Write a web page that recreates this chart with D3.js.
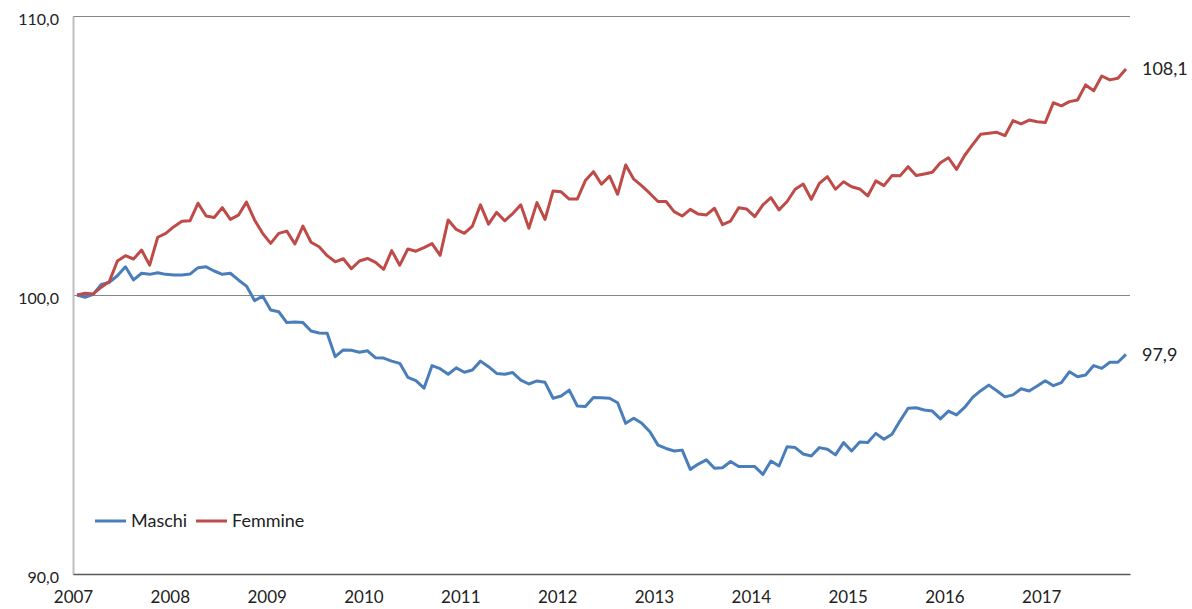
<!DOCTYPE html>
<html>
<head>
<meta charset="utf-8">
<script src="https://cdn.jsdelivr.net/npm/d3@7"></script>
<style>
  body { margin: 0; background: #fff; }
  text { font-family: Lato, "Noto Sans", sans-serif; }
</style>
</head>
<body>
<script>
// monthly index, Jan 2007 = 100, up to Nov 2017
var maschi = [
  100.00, 99.92, 100.02, 100.38, 100.45, 100.69, 101.01, 100.54, 100.78, 100.74, 100.80, 100.74,
  100.72, 100.72, 100.75, 100.98, 101.01, 100.86, 100.74, 100.78, 100.54, 100.32, 99.80, 99.96,
  99.46, 99.40, 99.01, 99.03, 99.01, 98.71, 98.64, 98.63, 97.79, 98.03, 98.02, 97.95,
  98.00, 97.75, 97.74, 97.63, 97.55, 97.05, 96.93, 96.66, 97.47, 97.36, 97.16, 97.39,
  97.23, 97.31, 97.63, 97.43, 97.19, 97.16, 97.22, 96.95, 96.81, 96.92, 96.87, 96.30,
  96.38, 96.59, 96.02, 96.00, 96.33, 96.32, 96.30, 96.14, 95.40, 95.58, 95.40, 95.10,
  94.62, 94.50, 94.41, 94.44, 93.75, 93.94, 94.09, 93.79, 93.81, 94.03, 93.85, 93.85,
  93.85, 93.57, 94.05, 93.87, 94.56, 94.53, 94.30, 94.23, 94.53, 94.47, 94.27, 94.71,
  94.41, 94.73, 94.71, 95.04, 94.83, 95.01, 95.49, 95.94, 95.96, 95.88, 95.84, 95.56,
  95.84, 95.70, 95.97, 96.33, 96.57, 96.77, 96.57, 96.35, 96.42, 96.64, 96.56, 96.74,
  96.93, 96.75, 96.86, 97.25, 97.07, 97.13, 97.47, 97.37, 97.59, 97.59, 97.87
];

var femmine = [
  100.00, 100.06, 100.04, 100.28, 100.48, 101.22, 101.41, 101.29, 101.61, 101.07, 102.07, 102.21,
  102.45, 102.64, 102.66, 103.29, 102.83, 102.78, 103.13, 102.71, 102.86, 103.33, 102.69, 102.21,
  101.85, 102.21, 102.29, 101.83, 102.47, 101.89, 101.73, 101.41, 101.19, 101.30, 100.94, 101.22,
  101.31, 101.17, 100.92, 101.59, 101.07, 101.65, 101.57, 101.70, 101.84, 101.42, 102.69, 102.35,
  102.21, 102.47, 103.23, 102.54, 102.96, 102.66, 102.92, 103.23, 102.39, 103.31, 102.71, 103.73,
  103.70, 103.44, 103.44, 104.10, 104.42, 103.97, 104.26, 103.61, 104.66, 104.15, 103.91, 103.64,
  103.35, 103.35, 102.99, 102.83, 103.07, 102.90, 102.87, 103.11, 102.52, 102.65, 103.13, 103.08,
  102.81, 103.23, 103.49, 103.05, 103.35, 103.79, 103.98, 103.43, 104.00, 104.24, 103.79, 104.06,
  103.88, 103.80, 103.55, 104.09, 103.92, 104.28, 104.27, 104.60, 104.28, 104.34, 104.40, 104.74,
  104.92, 104.50, 105.00, 105.39, 105.76, 105.80, 105.83, 105.71, 106.25, 106.13, 106.27, 106.21,
  106.18, 106.89, 106.78, 106.93, 106.99, 107.53, 107.32, 107.85, 107.71, 107.77, 108.10
];

var years = [2007, 2008, 2009, 2010, 2011, 2012, 2013, 2014, 2015, 2016, 2017];
var yTicks = [90, 100, 110];
var seriesNames = ["Maschi", "Femmine"];
var seriesColors = ["#4a7ebb", "#be4b48"];

var width = 1192,
	height = 609;

var svg = d3.select("body").append("svg")
	.attr("width", width)
	.attr("height", height);

// month index -> x, year boundaries fall half a month before each January
var xScale = d3.scaleLinear()
	.domain([-0.5, maschi.length - 0.5])
	.range([73, 1130]);

var yScale = d3.scaleLinear()
	.domain([90, 110])
	.range([574, 16]);

var fmt = function(v){
	return d3.format(".1f")(v).replace(".", ",");
};

// horizontal lines at 100 and 110
svg.selectAll(".grid")
	.data([100, 110])
	.enter()
	.append("line")
		.attr("class", "grid")
		.attr("x1", xScale(-0.5))
		.attr("x2", xScale(maschi.length - 0.5))
		.attr("y1", function(d){ return Math.round(yScale(d)) + 0.5; })
		.attr("y2", function(d){ return Math.round(yScale(d)) + 0.5; })
		.attr("stroke", "#868686")
		.attr("stroke-width", 1);

// y axis
var yAxis = svg.append("g")
	.attr("transform", "translate(" + xScale(-0.5) + ",0)")
	.call(d3.axisLeft(yScale).tickValues(yTicks).tickSize(0).tickPadding(14).tickFormat(fmt));
yAxis.select(".domain").attr("stroke", "#bfbfbf").attr("stroke-width", 2);
yAxis.selectAll("text").attr("font-size", 16).attr("fill", "#222").attr("dy", "0.55em");

// x axis
var yearPos = years.map(function(y, i){ return i * 12 - 0.5; });
var xAxis = svg.append("g")
	.attr("transform", "translate(0," + yScale(90) + ")")
	.call(d3.axisBottom(xScale).tickValues(yearPos).tickSize(0).tickPadding(17)
		.tickFormat(function(d, i){ return years[i]; }));
xAxis.select(".domain").attr("stroke", "#595959").attr("stroke-width", 1.5);
xAxis.selectAll("text").attr("font-size", 17).attr("fill", "#222");

// lines
var line = d3.line()
	.x(function(d, i){ return xScale(i); })
	.y(function(d){ return yScale(d); });

[maschi, femmine].forEach(function(s, k){
	svg.append("path")
		.datum(s)
		.attr("d", line)
		.attr("fill", "none")
		.attr("stroke", seriesColors[k])
		.attr("stroke-width", 3)
		.attr("stroke-linejoin", "round");

	svg.append("text")
		.attr("x", xScale(s.length - 1) + 16)
		.attr("y", yScale(s[s.length - 1]))
		.attr("dy", "0.35em")
		.attr("font-size", 18)
		.attr("fill", "#222")
		.text(fmt(s[s.length - 1]));
});

// legend
var legend = svg.selectAll(".legend")
	.data(seriesNames)
	.enter()
	.append("g")
		.attr("class", "legend")
		.attr("transform", function(d, i){
			return "translate(" + (95 + i * 101) + ",521)";
		});

legend.append("line")
	.attr("x1", 0)
	.attr("x2", 31)
	.attr("stroke", function(d, i){ return seriesColors[i]; })
	.attr("stroke-width", 3);

legend.append("text")
	.attr("x", 36)
	.attr("dy", "0.35em")
	.attr("font-size", 18)
	.attr("fill", "#222")
	.text(function(d){ return d; });
</script>
</body>
</html>
